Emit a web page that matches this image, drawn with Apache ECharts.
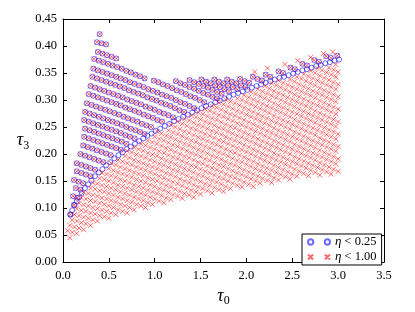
<!DOCTYPE html>
<html><head><meta charset="utf-8">
<script src="https://cdn.jsdelivr.net/npm/echarts@6/dist/echarts.min.js"></script>
<style>html,body{margin:0;padding:0;background:#fff}#c{width:415px;height:312px}</style>
</head><body><div id="c"></div>
<script>
// ---------- DATA ----------
const xTicks = [0.0, 0.5, 1.0, 1.5, 2.0, 2.5, 3.0, 3.5];
const yTicks = [0.00, 0.05, 0.10, 0.15, 0.20, 0.25, 0.30, 0.35, 0.40, 0.45];
const seriesNames = ['η < 0.25', 'η < 1.00'];

// equal-mass edge: blue circles only
const edgeT0 = [0.08,0.10,0.125,0.15,0.175,0.205,0.24,0.275,0.31,0.35,0.39,0.43,0.47,0.515,0.56,0.605,0.65,0.695,0.74,0.785,0.83,0.875,0.92,0.965,1.01,1.06,1.11,1.16,1.21,1.26,1.31,1.36,1.41,1.46,1.51,1.56,1.61,1.66,1.71,1.76,1.81,1.86,1.91,1.96,2.01,2.06,2.11,2.16,2.21,2.26,2.31,2.36,2.41,2.46,2.51,2.56,2.61,2.66,2.71,2.76,2.81,2.86,2.91,2.96,3.01];
const edgeT3 = [.088,.096,.105,.113,.120,.128,.137,.144,.151,.159,.166,.172,.179,.185,.192,.198,.203,.209,.214,.219,.224,.229,.234,.238,.243,.247,.252,.256,.261,.265,.269,.273,.277,.281,.285,.289,.292,.296,.299,.303,.306,.310,.313,.316,.319,.323,.326,.329,.332,.335,.338,.341,.343,.346,.349,.352,.355,.357,.360,.363,.365,.368,.370,.373,.375];

// rows above the edge (circle and cross on the same point), [t0,t3, t0,t3, ...]
const upperRows = [
 [0.40,.422],
 [0.37,.407, 0.42,.405, 0.47,.403],
 [0.38,.389, 0.43,.386, 0.48,.383, 0.53,.380, 0.58,.377],
 [0.34,.376, 0.39,.373, 0.44,.370, 0.49,.367, 0.54,.364, 0.59,.361, 0.64,.358, 0.69,.354, 0.74,.351, 0.79,.347, 0.84,.344, 0.89,.340],
 [0.33,.358, 0.38,.355, 0.43,.352, 0.48,.349, 0.53,.346, 0.58,.343, 0.63,.340, 0.68,.337, 0.73,.333, 0.78,.330, 0.83,.327, 0.88,.324, 0.93,.320, 0.98,.317, 1.03,.314, 1.08,.310, 1.13,.307, 1.18,.304, 1.23,.300, 1.28,.296, 1.33,.293, 1.38,.289, 1.43,.285],
 [0.32,.343, 0.37,.340, 0.42,.337, 0.47,.334, 0.52,.331, 0.57,.328, 0.62,.325, 0.67,.322, 0.72,.318, 0.77,.315, 0.82,.312, 0.87,.309, 0.92,.305, 0.97,.302, 1.02,.299, 1.07,.295, 1.12,.292, 1.17,.289, 1.22,.285, 1.27,.281, 1.32,.278],
 [0.30,.326, 0.35,.323, 0.40,.320, 0.45,.317, 0.50,.314, 0.55,.311, 0.60,.308, 0.65,.305, 0.70,.301, 0.75,.298, 0.80,.295, 0.85,.292, 0.90,.288, 0.95,.285, 1.00,.282, 1.05,.278, 1.10,.275, 1.15,.272, 1.20,.268],
 [0.28,.311, 0.33,.308, 0.38,.305, 0.43,.302, 0.48,.299, 0.53,.296, 0.58,.293, 0.63,.290, 0.68,.286, 0.73,.283, 0.78,.280, 0.83,.277, 0.88,.273, 0.93,.270, 0.98,.267, 1.03,.263, 1.08,.260],
 [0.26,.294, 0.31,.291, 0.36,.288, 0.41,.285, 0.46,.282, 0.51,.279, 0.56,.276, 0.61,.273, 0.66,.269, 0.71,.266, 0.76,.263, 0.81,.260, 0.86,.256, 0.91,.253, 0.96,.250],
 [0.24,.278, 0.29,.275, 0.34,.272, 0.39,.269, 0.44,.266, 0.49,.263, 0.54,.260, 0.59,.257, 0.64,.254, 0.69,.250, 0.74,.247, 0.79,.244, 0.84,.241, 0.89,.237],
 [0.23,.263, 0.28,.260, 0.33,.257, 0.38,.254, 0.43,.251, 0.48,.248, 0.53,.245, 0.58,.242, 0.63,.239, 0.68,.235, 0.73,.232, 0.78,.229],
 [0.24,.247, 0.29,.244, 0.34,.241, 0.39,.238, 0.44,.235, 0.49,.232, 0.54,.229, 0.59,.226, 0.64,.223, 0.69,.219],
 [0.23,.232, 0.28,.229, 0.33,.226, 0.38,.223, 0.43,.220, 0.48,.217, 0.53,.214, 0.58,.211, 0.63,.208],
 [0.22,.216, 0.27,.213, 0.32,.210, 0.37,.207, 0.42,.204, 0.47,.201, 0.52,.198],
 [0.19,.200, 0.24,.197, 0.29,.194, 0.34,.191, 0.39,.188, 0.44,.185],
 [0.15,.183, 0.20,.180, 0.25,.177, 0.30,.174, 0.35,.171],
 [0.15,.168, 0.20,.165, 0.25,.162, 0.30,.159],
 [0.12,.152, 0.17,.149, 0.22,.146],
 [0.14,.137, 0.19,.134],
 [0.11,.122, 0.155,.119],
 [0.12,.106],
 [0.08,.088]
];

// short rows starting at the upper envelope (circle and cross)
const topRows = [
 [0.99,.336, 1.04,.333, 1.09,.329, 1.14,.326, 1.19,.322, 1.24,.318, 1.29,.315, 1.34,.311, 1.39,.307, 1.44,.304, 1.49,.300, 1.54,.296],
 [1.23,.335, 1.28,.331, 1.33,.328, 1.38,.324, 1.43,.321, 1.48,.317, 1.53,.313, 1.58,.310, 1.63,.306, 1.68,.303],
 [1.38,.337, 1.43,.333, 1.48,.330, 1.53,.326, 1.58,.323, 1.63,.319, 1.68,.315, 1.73,.312],
 [1.51,.338, 1.56,.334, 1.61,.331, 1.66,.327, 1.71,.324, 1.76,.320, 1.81,.316],
 [1.65,.338, 1.70,.334, 1.75,.331, 1.80,.327, 1.85,.324, 1.90,.320],
 [1.79,.338, 1.84,.334, 1.89,.331, 1.94,.327, 1.99,.324],
 [1.93,.339, 1.98,.335, 2.03,.332],
 [2.07,.343, 2.12,.339, 2.17,.336],
 [2.21,.347, 2.26,.343],
 [2.35,.353, 2.40,.350],
 [2.48,.360, 2.53,.357],
 [2.61,.367, 2.66,.364],
 [2.74,.374, 2.79,.371],
 [2.87,.381, 2.92,.378],
 [2.99,.382]
];

// crosses only, below the edge
const lowerRows = [
 [2.975,.366],
 [2.90,.360, 2.95,.356, 3.00,.352],
 [2.775,.359, 2.825,.355, 2.875,.351, 2.925,.347, 2.975,.343],
 [2.70,.354, 2.75,.350, 2.80,.345, 2.85,.341, 2.90,.337, 2.95,.333, 3.00,.329],
 [2.625,.348, 2.675,.344, 2.725,.340, 2.775,.336, 2.825,.332, 2.875,.328, 2.925,.324, 2.975,.320],
 [2.55,.343, 2.60,.339, 2.65,.335, 2.70,.331, 2.75,.327, 2.80,.322, 2.85,.318, 2.90,.314, 2.95,.310, 3.00,.306],
 [2.475,.338, 2.525,.334, 2.575,.329, 2.625,.325, 2.675,.321, 2.725,.317, 2.775,.313, 2.825,.309, 2.875,.305, 2.925,.301, 2.975,.297],
 [2.35,.336, 2.40,.332, 2.45,.328, 2.50,.324, 2.55,.320, 2.60,.316, 2.65,.312, 2.70,.308, 2.75,.304, 2.80,.299, 2.85,.295, 2.90,.291, 2.95,.287, 3.00,.283],
 [2.275,.331, 2.325,.327, 2.375,.323, 2.425,.319, 2.475,.315, 2.525,.310, 2.575,.306, 2.625,.302, 2.675,.298, 2.725,.294, 2.775,.290, 2.825,.286, 2.875,.282, 2.925,.278, 2.975,.274],
 [2.20,.326, 2.25,.321, 2.30,.317, 2.35,.313, 2.40,.309, 2.45,.305, 2.50,.301, 2.55,.297, 2.60,.293, 2.65,.289, 2.70,.285, 2.75,.280, 2.80,.276, 2.85,.272, 2.90,.268, 2.95,.264, 3.00,.260],
 [2.125,.320, 2.175,.316, 2.225,.312, 2.275,.308, 2.325,.304, 2.375,.300, 2.425,.296, 2.475,.292, 2.525,.288, 2.575,.283, 2.625,.279, 2.675,.275, 2.725,.271, 2.775,.267, 2.825,.263, 2.875,.259, 2.925,.255, 2.975,.251],
 [2.05,.315, 2.10,.311, 2.15,.307, 2.20,.303, 2.25,.299, 2.30,.294, 2.35,.290, 2.40,.286, 2.45,.282, 2.50,.278, 2.55,.274, 2.60,.270, 2.65,.266, 2.70,.262, 2.75,.258, 2.80,.253, 2.85,.249, 2.90,.245, 2.95,.241, 3.00,.237],
 [1.975,.309, 2.025,.305, 2.075,.301, 2.125,.297, 2.175,.293, 2.225,.289, 2.275,.285, 2.325,.281, 2.375,.277, 2.425,.273, 2.475,.269, 2.525,.264, 2.575,.260, 2.625,.256, 2.675,.252, 2.725,.248, 2.775,.244, 2.825,.240, 2.875,.236, 2.925,.232, 2.975,.228],
 [1.90,.303, 1.95,.300, 2.00,.296, 2.05,.292, 2.10,.288, 2.15,.284, 2.20,.280, 2.25,.276, 2.30,.271, 2.35,.267, 2.40,.263, 2.45,.259, 2.50,.255, 2.55,.251, 2.60,.247, 2.65,.243, 2.70,.239, 2.75,.235, 2.80,.230, 2.85,.226, 2.90,.222, 2.95,.218, 3.00,.214],
 [1.775,.301, 1.825,.297, 1.875,.294, 1.925,.290, 1.975,.286, 2.025,.282, 2.075,.278, 2.125,.274, 2.175,.270, 2.225,.266, 2.275,.262, 2.325,.258, 2.375,.254, 2.425,.250, 2.475,.246, 2.525,.241, 2.575,.237, 2.625,.233, 2.675,.229, 2.725,.225, 2.775,.221, 2.825,.217, 2.875,.213, 2.925,.209, 2.975,.205],
 [1.70,.295, 1.75,.292, 1.80,.288, 1.85,.284, 1.90,.280, 1.95,.277, 2.00,.273, 2.05,.269, 2.10,.265, 2.15,.261, 2.20,.257, 2.25,.253, 2.30,.248, 2.35,.244, 2.40,.240, 2.45,.236, 2.50,.232, 2.55,.228, 2.60,.224, 2.65,.220, 2.70,.216, 2.75,.212, 2.80,.207, 2.85,.203, 2.90,.199, 2.95,.195, 3.00,.191],
 [1.625,.289, 1.675,.286, 1.725,.282, 1.775,.278, 1.825,.274, 1.875,.271, 1.925,.267, 1.975,.263, 2.025,.259, 2.075,.255, 2.125,.251, 2.175,.247, 2.225,.243, 2.275,.239, 2.325,.235, 2.375,.231, 2.425,.227, 2.475,.223, 2.525,.218, 2.575,.214, 2.625,.210, 2.675,.206, 2.725,.202, 2.775,.198, 2.825,.194, 2.875,.190, 2.925,.186, 2.975,.182],
 [1.55,.283, 1.60,.280, 1.65,.276, 1.70,.272, 1.75,.269, 1.80,.265, 1.85,.261, 1.90,.257, 1.95,.254, 2.00,.250, 2.05,.246, 2.10,.242, 2.15,.238, 2.20,.234, 2.25,.230, 2.30,.225, 2.35,.221, 2.40,.217, 2.45,.213, 2.50,.209, 2.55,.205, 2.60,.201, 2.65,.197, 2.70,.193, 2.75,.189, 2.80,.184, 2.85,.180, 2.90,.176, 2.95,.172, 3.00,.168],
 [1.475,.277, 1.525,.274, 1.575,.270, 1.625,.266, 1.675,.263, 1.725,.259, 1.775,.255, 1.825,.251, 1.875,.248, 1.925,.244, 1.975,.240, 2.025,.236, 2.075,.232, 2.125,.228, 2.175,.224, 2.225,.220, 2.275,.216, 2.325,.212, 2.375,.208, 2.425,.204, 2.475,.200, 2.525,.195, 2.575,.191, 2.625,.187, 2.675,.183, 2.725,.179, 2.775,.175, 2.825,.171, 2.875,.167, 2.925,.163],
 [1.40,.271, 1.45,.268, 1.50,.264, 1.55,.260, 1.60,.257, 1.65,.253, 1.70,.249, 1.75,.246, 1.80,.242, 1.85,.238, 1.90,.234, 1.95,.231, 2.00,.227, 2.05,.223, 2.10,.219, 2.15,.215, 2.20,.211, 2.25,.207, 2.30,.202, 2.35,.198, 2.40,.194, 2.45,.190, 2.50,.186, 2.55,.182, 2.60,.178, 2.65,.174, 2.70,.170, 2.75,.166, 2.80,.161],
 [1.325,.265, 1.375,.262, 1.425,.258, 1.475,.254, 1.525,.251, 1.575,.247, 1.625,.243, 1.675,.240, 1.725,.236, 1.775,.232, 1.825,.228, 1.875,.225, 1.925,.221, 1.975,.217, 2.025,.213, 2.075,.209, 2.125,.205, 2.175,.201, 2.225,.197, 2.275,.193, 2.325,.189, 2.375,.185, 2.425,.181, 2.475,.177, 2.525,.172, 2.575,.168, 2.625,.164, 2.675,.160],
 [1.25,.260, 1.30,.256, 1.35,.252, 1.40,.248, 1.45,.245, 1.50,.241, 1.55,.237, 1.60,.234, 1.65,.230, 1.70,.226, 1.75,.223, 1.80,.219, 1.85,.215, 1.90,.211, 1.95,.208, 2.00,.204, 2.05,.200, 2.10,.196, 2.15,.192, 2.20,.188, 2.25,.184, 2.30,.179, 2.35,.175, 2.40,.171, 2.45,.167, 2.50,.163, 2.55,.159],
 [1.175,.254, 1.225,.250, 1.275,.246, 1.325,.242, 1.375,.239, 1.425,.235, 1.475,.231, 1.525,.228, 1.575,.224, 1.625,.220, 1.675,.217, 1.725,.213, 1.775,.209, 1.825,.205, 1.875,.202, 1.925,.198, 1.975,.194, 2.025,.190, 2.075,.186, 2.125,.182, 2.175,.178, 2.225,.174, 2.275,.170, 2.325,.166, 2.375,.162, 2.425,.158, 2.475,.154],
 [1.15,.244, 1.20,.240, 1.25,.237, 1.30,.233, 1.35,.229, 1.40,.225, 1.45,.222, 1.50,.218, 1.55,.214, 1.60,.211, 1.65,.207, 1.70,.203, 1.75,.200, 1.80,.196, 1.85,.192, 1.90,.188, 1.95,.185, 2.00,.181, 2.05,.177, 2.10,.173, 2.15,.169, 2.20,.165, 2.25,.161, 2.30,.156, 2.35,.152],
 [1.025,.242, 1.075,.238, 1.125,.234, 1.175,.231, 1.225,.227, 1.275,.223, 1.325,.219, 1.375,.216, 1.425,.212, 1.475,.208, 1.525,.205, 1.575,.201, 1.625,.197, 1.675,.194, 1.725,.190, 1.775,.186, 1.825,.182, 1.875,.179, 1.925,.175, 1.975,.171, 2.025,.167, 2.075,.163, 2.125,.159, 2.175,.155, 2.225,.151, 2.275,.147],
 [1.00,.232, 1.05,.228, 1.10,.225, 1.15,.221, 1.20,.217, 1.25,.214, 1.30,.210, 1.35,.206, 1.40,.202, 1.45,.199, 1.50,.195, 1.55,.191, 1.60,.188, 1.65,.184, 1.70,.180, 1.75,.177, 1.80,.173, 1.85,.169, 1.90,.165, 1.95,.162, 2.00,.158, 2.05,.154, 2.10,.150, 2.15,.146],
 [0.925,.225, 0.975,.222, 1.025,.219, 1.075,.215, 1.125,.211, 1.175,.208, 1.225,.204, 1.275,.200, 1.325,.196, 1.375,.193, 1.425,.189, 1.475,.185, 1.525,.182, 1.575,.178, 1.625,.174, 1.675,.171, 1.725,.167, 1.775,.163, 1.825,.159, 1.875,.156, 1.925,.152, 1.975,.148, 2.025,.144, 2.075,.140],
 [0.85,.219, 0.90,.216, 0.95,.212, 1.00,.209, 1.05,.205, 1.10,.202, 1.15,.198, 1.20,.194, 1.25,.191, 1.30,.187, 1.35,.183, 1.40,.179, 1.45,.176, 1.50,.172, 1.55,.168, 1.60,.165, 1.65,.161, 1.70,.157, 1.75,.154, 1.80,.150, 1.85,.146, 1.90,.142, 1.95,.139],
 [0.775,.212, 0.825,.209, 0.875,.206, 0.925,.202, 0.975,.199, 1.025,.196, 1.075,.192, 1.125,.188, 1.175,.185, 1.225,.181, 1.275,.177, 1.325,.173, 1.375,.170, 1.425,.166, 1.475,.162, 1.525,.159, 1.575,.155, 1.625,.151, 1.675,.148, 1.725,.144, 1.775,.140, 1.825,.136],
 [0.70,.206, 0.75,.203, 0.80,.199, 0.85,.196, 0.90,.193, 0.95,.189, 1.00,.186, 1.05,.182, 1.10,.179, 1.15,.175, 1.20,.171, 1.25,.168, 1.30,.164, 1.35,.160, 1.40,.156, 1.45,.153, 1.50,.149, 1.55,.145, 1.60,.142, 1.65,.138, 1.70,.134, 1.75,.131],
 [0.675,.196, 0.725,.193, 0.775,.189, 0.825,.186, 0.875,.183, 0.925,.179, 0.975,.176, 1.025,.173, 1.075,.169, 1.125,.165, 1.175,.162, 1.225,.158, 1.275,.154, 1.325,.150, 1.375,.147, 1.425,.143, 1.475,.139, 1.525,.136, 1.575,.132, 1.625,.128],
 [0.60,.189, 0.65,.186, 0.70,.183, 0.75,.180, 0.80,.176, 0.85,.173, 0.90,.170, 0.95,.166, 1.00,.163, 1.05,.159, 1.10,.156, 1.15,.152, 1.20,.148, 1.25,.145, 1.30,.141, 1.35,.137, 1.40,.133, 1.45,.130, 1.50,.126],
 [0.525,.183, 0.575,.180, 0.625,.176, 0.675,.173, 0.725,.170, 0.775,.166, 0.825,.163, 0.875,.160, 0.925,.156, 0.975,.153, 1.025,.150, 1.075,.146, 1.125,.142, 1.175,.139, 1.225,.135, 1.275,.131, 1.325,.127, 1.375,.124, 1.425,.120],
 [0.50,.173, 0.55,.170, 0.60,.166, 0.65,.163, 0.70,.160, 0.75,.157, 0.80,.153, 0.85,.150, 0.90,.147, 0.95,.143, 1.00,.140, 1.05,.136, 1.10,.133, 1.15,.129, 1.20,.125, 1.25,.122, 1.30,.118],
 [0.425,.165, 0.475,.163, 0.525,.160, 0.575,.157, 0.625,.153, 0.675,.150, 0.725,.147, 0.775,.143, 0.825,.140, 0.875,.137, 0.925,.133, 0.975,.130, 1.025,.127, 1.075,.123, 1.125,.119, 1.175,.116],
 [0.40,.155, 0.45,.153, 0.50,.150, 0.55,.147, 0.60,.143, 0.65,.140, 0.70,.137, 0.75,.134, 0.80,.130, 0.85,.127, 0.90,.124, 0.95,.120, 1.00,.117, 1.05,.113, 1.10,.110],
 [0.325,.147, 0.375,.145, 0.425,.142, 0.475,.140, 0.525,.137, 0.575,.134, 0.625,.130, 0.675,.127, 0.725,.124, 0.775,.120, 0.825,.117, 0.875,.114, 0.925,.110, 0.975,.107],
 [0.30,.137, 0.35,.135, 0.40,.132, 0.45,.130, 0.50,.127, 0.55,.124, 0.60,.120, 0.65,.117, 0.70,.114, 0.75,.111, 0.80,.107, 0.85,.104, 0.90,.101],
 [0.225,.129, 0.275,.127, 0.325,.124, 0.375,.122, 0.425,.119, 0.475,.117, 0.525,.114, 0.575,.111, 0.625,.107, 0.675,.104, 0.725,.101, 0.775,.097],
 [0.20,.119, 0.25,.117, 0.30,.114, 0.35,.112, 0.40,.109, 0.45,.107, 0.50,.104, 0.55,.101, 0.60,.097, 0.65,.094, 0.70,.091],
 [0.175,.109, 0.225,.106, 0.275,.104, 0.325,.101, 0.375,.099, 0.425,.096, 0.475,.094, 0.525,.091, 0.575,.088],
 [0.15,.099, 0.20,.096, 0.25,.094, 0.30,.091, 0.35,.089, 0.40,.086, 0.45,.084, 0.50,.081],
 [0.125,.088, 0.175,.086, 0.225,.083, 0.275,.081, 0.325,.078, 0.375,.076],
 [0.10,.078, 0.15,.076, 0.20,.073, 0.25,.071, 0.30,.068],
 [0.075,.068, 0.125,.065, 0.175,.063, 0.225,.060],
 [0.05,.058, 0.10,.055, 0.15,.053],
 [0.075,.045]
];

// crosses only, just above the edge on the right
const extraCrosses = [2.09,.352, 2.23,.359, 2.42,.366, 2.56,.373, 2.70,.379, 2.84,.386, 2.94,.389];

// ---------- BUILD ----------
function pairsOf(flat){ const out=[]; for(let i=0;i+1<flat.length;i+=2) out.push([flat[i],flat[i+1]]); return out; }
function rowsToPairs(rows){ let out=[]; rows.forEach(r=>{ out = out.concat(pairsOf(r)); }); return out; }

const edgePts = edgeT0.slice(0, Math.min(edgeT0.length, edgeT3.length)).map((t,i)=>[t, edgeT3[i]]);
const blueData = rowsToPairs(upperRows).concat(rowsToPairs(topRows), edgePts);
const redData = rowsToPairs(upperRows).concat(rowsToPairs(topRows), rowsToPairs(lowerRows), pairsOf(extraCrosses));

const SERIF = "'Liberation Serif','DejaVu Serif',serif";
const BLUE = 'rgba(0,0,255,0.72)';
const RED = 'rgba(255,0,0,0.72)';
const CROSS = 'path://M0,0L10,10M10,0L0,10';
const CIRCLES2 = 'path://M0.4,3A2.6,2.6 0 1 0 5.6,3A2.6,2.6 0 1 0 0.4,3ZM16.9,3A2.6,2.6 0 1 0 22.1,3A2.6,2.6 0 1 0 16.9,3Z';
const CROSSES2 = 'path://M0.5,0.5L5.5,5.5M5.5,0.5L0.5,5.5M17,0.5L22,5.5M22,0.5L17,5.5';

const nameRich = {
  t:{fontFamily:SERIF, fontStyle:'italic', fontSize:18, color:'#000', lineHeight:22},
  s:{fontFamily:SERIF, fontSize:12, color:'#000', verticalAlign:'bottom', lineHeight:13}
};
const axisLineStyle = {onZero:false, lineStyle:{color:'#000', width:1}};
const tickStyle = {inside:true, length:4, lineStyle:{color:'#000', width:1}};
const labelFont = {fontFamily:SERIF, fontSize:12.5, color:'#000'};

const chart = echarts.init(document.getElementById('c'), null, {renderer:'canvas'});
chart.setOption({
  animation:false,
  backgroundColor:'#fff',
  grid:{left:63, right:31, top:19, bottom:44},
  xAxis:[
    {type:'value', min:xTicks[0], max:xTicks[xTicks.length-1], interval:0.5, position:'bottom',
     axisLine:axisLineStyle, axisTick:tickStyle, splitLine:{show:false},
     axisLabel:Object.assign({margin:7, formatter:v=>v.toFixed(1)}, labelFont),
     name:'{t|τ}{s|0}', nameLocation:'middle', nameGap:7, nameTextStyle:{rich:nameRich, verticalAlign:'top'}},
    {type:'value', min:xTicks[0], max:xTicks[xTicks.length-1], interval:0.5, position:'top',
     axisLine:axisLineStyle, axisTick:tickStyle, splitLine:{show:false}, axisLabel:{show:false}}
  ],
  yAxis:[
    {type:'value', min:yTicks[0], max:yTicks[yTicks.length-1], interval:0.05, position:'left',
     axisLine:axisLineStyle, axisTick:tickStyle, splitLine:{show:false},
     axisLabel:Object.assign({margin:6, formatter:v=>v.toFixed(2)}, labelFont),
     name:'{t|τ}{s|3}', nameLocation:'middle', nameRotate:0, nameGap:18, nameTextStyle:{rich:nameRich}},
    {type:'value', min:yTicks[0], max:yTicks[yTicks.length-1], interval:0.05, position:'right',
     axisLine:axisLineStyle, axisTick:tickStyle, splitLine:{show:false}, axisLabel:{show:false}}
  ],
  legend:{
    left:302, top:234, orient:'vertical',
    backgroundColor:'#fff', borderColor:'#000', borderWidth:1, borderRadius:0,
    padding:[1,5,1,5], itemGap:1, itemWidth:22, itemHeight:6, itemTextGap:3,
    textStyle:{fontFamily:SERIF, fontSize:12.5, color:'#000', lineHeight:14,
      rich:{e:{fontFamily:SERIF, fontStyle:'italic', fontSize:13, color:'#000'}}},
    formatter:n=>'{e|η}'+n.slice(1),
    selectedMode:false,
    data:[{name:seriesNames[0], icon:CIRCLES2}, {name:seriesNames[1], icon:CROSSES2}]
  },
  series:[
    {name:seriesNames[0], type:'scatter', xAxisIndex:0, yAxisIndex:0, data:blueData,
     symbol:'circle', symbolSize:5,
     itemStyle:{color:'rgba(0,0,0,0)', borderColor:BLUE, borderWidth:1}, emphasis:{disabled:true}, z:2},
    {name:seriesNames[1], type:'scatter', xAxisIndex:0, yAxisIndex:0, data:redData,
     symbol:CROSS, symbolSize:5,
     itemStyle:{color:'rgba(0,0,0,0)', borderColor:RED, borderWidth:1}, emphasis:{disabled:true}, z:3}
  ]
});
</script></body></html>
